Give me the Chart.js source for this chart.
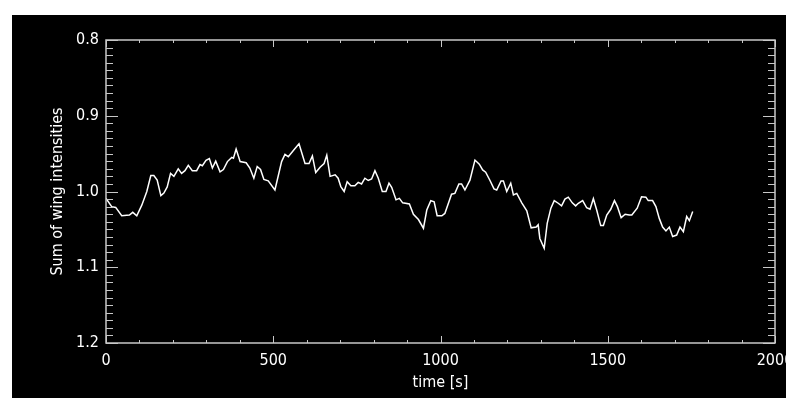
<!DOCTYPE html>
<html>
<head>
<meta charset="utf-8">
<script src="https://cdn.jsdelivr.net/npm/chart.js@4.4.0/dist/chart.umd.min.js"></script>
<style>
  html, body { margin: 0; padding: 0; background: #fff; overflow: hidden; }
  #frame { position: absolute; left: 12px; top: 15px; width: 774px; height: 383px; background: #000; overflow: hidden; }
  #frame canvas { position: absolute; left: 0; top: 0; }
</style>
</head>
<body>
<div id="frame"><canvas id="chart" width="800" height="383"></canvas></div>
<script>
// time [s] and summed wing intensity
const times = [
  0, 17, 29, 47, 70, 80, 92, 107, 122, 134, 143, 153, 164, 173, 183, 193, 203, 216, 226, 236,
  246, 258, 271, 281, 288, 299, 309, 318, 328, 341, 351, 363, 376, 381, 389, 401, 419, 430, 442, 452,
  462, 472, 485, 505, 525, 535, 545, 562, 577, 595, 607, 617, 627, 640, 652, 660, 670, 685, 694, 702,
  712, 721, 732, 744, 754, 764, 774, 784, 794, 804, 814, 826, 837, 846, 854, 867, 877, 887, 907, 919,
  934, 949, 959, 971, 981, 990, 1004, 1013, 1033, 1043, 1055, 1063, 1073, 1088, 1103, 1116, 1126, 1135, 1148, 1160,
  1168, 1181, 1188, 1198, 1210, 1218, 1228, 1243, 1258, 1271, 1286, 1292, 1297, 1310, 1319, 1330, 1340, 1352, 1362, 1372,
  1382, 1394, 1404, 1412, 1425, 1437, 1447, 1457, 1467, 1479, 1487, 1497, 1509, 1520, 1529, 1540, 1552, 1564, 1572, 1588,
  1601, 1614, 1621, 1634, 1644, 1654, 1664, 1674, 1684, 1694, 1706, 1716, 1726, 1736, 1744, 1754
];
const intensities = [
  1.009, 1.020, 1.021, 1.032, 1.031, 1.0275, 1.032, 1.018, 1.000, 0.979, 0.979, 0.985, 1.0055, 1.002, 0.994, 0.976, 0.980, 0.970, 0.976, 0.9725,
  0.9655, 0.9725, 0.9725, 0.9645, 0.966, 0.959, 0.9565, 0.969, 0.960, 0.974, 0.971, 0.9605, 0.955, 0.956, 0.944, 0.9605, 0.962, 0.969, 0.9825, 0.967,
  0.971, 0.984, 0.986, 0.998, 0.9605, 0.951, 0.954, 0.945, 0.937, 0.963, 0.963, 0.953, 0.975, 0.968, 0.963, 0.952, 0.980, 0.978, 0.9825, 0.9935,
  1.000, 0.987, 0.9925, 0.9925, 0.988, 0.990, 0.9825, 0.9855, 0.9835, 0.9725, 0.9825, 1.000, 1.000, 0.989, 0.9945, 1.011, 1.009, 1.015, 1.0165, 1.030,
  1.037, 1.0485, 1.0245, 1.012, 1.0135, 1.032, 1.032, 1.029, 1.0035, 1.0025, 0.990, 0.990, 0.998, 0.985, 0.9585, 0.964, 0.9715, 0.9745, 0.9855, 0.9965,
  0.998, 0.986, 0.986, 1.000, 0.989, 1.0045, 1.0025, 1.015, 1.0255, 1.048, 1.047, 1.044, 1.062, 1.075, 1.042, 1.022, 1.012, 1.0155, 1.019, 1.010,
  1.0075, 1.015, 1.019, 1.0155, 1.012, 1.0215, 1.0235, 1.0095, 1.0245, 1.045, 1.045, 1.031, 1.0235, 1.012, 1.020, 1.0345, 1.030, 1.031, 1.031, 1.022,
  1.007, 1.0075, 1.012, 1.012, 1.020, 1.0355, 1.047, 1.052, 1.047, 1.0595, 1.0575, 1.047, 1.053, 1.033, 1.0385, 1.0265
];
const xTicks = [0, 500, 1000, 1500, 2000];
const yTicks = [0.8, 0.9, 1.0, 1.1, 1.2];
const xMinorStep = 100;
const yMinorStep = 0.01;

const FONT = "'DejaVu Sans Condensed', 'Liberation Sans Narrow', 'DejaVu Sans', sans-serif";
const AXIS = '#c8c8c8';

// IDL style frame: box on all four sides with ticks pointing inward
const inwardTicks = {
  id: 'inwardTicks',
  afterDraw(chart) {
    const { ctx, chartArea: a, scales: { x, y } } = chart;
    ctx.save();
    ctx.strokeStyle = AXIS;
    ctx.lineWidth = 1.5;
    ctx.strokeRect(a.left, a.top, a.right - a.left, a.bottom - a.top);
    ctx.lineWidth = 1;
    ctx.beginPath();
    for (let t = x.min; t <= x.max + 1e-9; t += xMinorStep) {
      const px = Math.round(x.getPixelForValue(t)) + 0.5;
      const len = xTicks.includes(Math.round(t)) ? 7 : 3;
      ctx.moveTo(px, a.bottom); ctx.lineTo(px, a.bottom - len);
      ctx.moveTo(px, a.top); ctx.lineTo(px, a.top + len);
    }
    for (let i = 0; i <= Math.round((y.max - y.min) / yMinorStep); i++) {
      const v = y.min + i * yMinorStep;
      const py = Math.round(y.getPixelForValue(v)) + 0.5;
      const len = i % 10 === 0 ? 12 : 7;
      ctx.moveTo(a.left, py); ctx.lineTo(a.left + len, py);
      ctx.moveTo(a.right, py); ctx.lineTo(a.right - len, py);
    }
    ctx.stroke();
    ctx.restore();
  }
};

new Chart(document.getElementById('chart'), {
  type: 'scatter',
  data: {
    datasets: [{
      data: times.map((t, i) => ({ x: t, y: intensities[i] })),
      showLine: true,
      borderColor: '#ffffff',
      borderWidth: 1.5,
      pointRadius: 0,
      tension: 0
    }]
  },
  options: {
    responsive: false,
    animation: false,
    layout: { padding: { top: 25, right: 37, left: 0, bottom: 0 } },
    plugins: { legend: { display: false }, tooltip: { enabled: false } },
    scales: {
      x: {
        type: 'linear',
        min: 0,
        max: 2000,
        afterFit(scale) { scale.height = 55; },
        afterBuildTicks(scale) { scale.ticks = xTicks.map(v => ({ value: v })); },
        grid: { display: false, drawTicks: false },
        border: { display: false },
        ticks: { color: '#ffffff', padding: 8, maxRotation: 0, font: { family: FONT, size: 16 }, callback: v => String(v) },
        title: { display: true, text: 'time [s]', color: '#ffffff', padding: { top: 0, bottom: 6 }, font: { family: FONT, size: 16 } }
      },
      y: {
        type: 'linear',
        min: 0.8,
        max: 1.2,
        reverse: true,
        afterFit(scale) { scale.width = 94; },
        afterBuildTicks(scale) { scale.ticks = yTicks.map(v => ({ value: v })); },
        grid: { display: false, drawTicks: false },
        border: { display: false },
        ticks: { color: '#ffffff', padding: 7, font: { family: FONT, size: 16 }, callback: v => v.toFixed(1) },
        title: { display: true, text: 'Sum of wing intensities', color: '#ffffff', padding: { top: 36, bottom: 0 }, font: { family: FONT, size: 16 } }
      }
    }
  },
  plugins: [inwardTicks]
});
</script>
</body>
</html>
